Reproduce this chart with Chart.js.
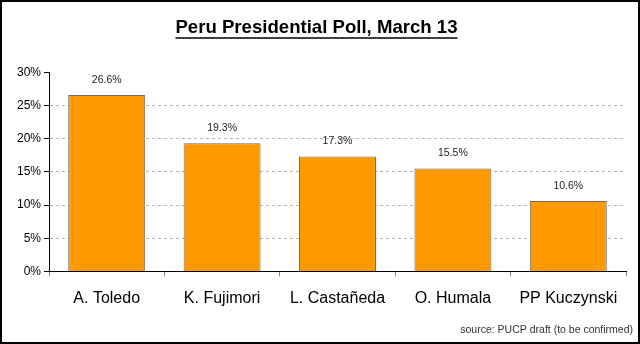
<!DOCTYPE html>
<html><head><meta charset="utf-8">
<script src="https://cdn.jsdelivr.net/npm/chart.js@4"></script>
<style>html,body{margin:0;padding:0;background:#fff}#w{width:640px;height:344px;position:relative}</style>
</head><body><div id="w"><canvas id="c" width="640" height="344"></canvas></div>
<script>
const categories = ["A. Toledo", "K. Fujimori", "L. Castañeda", "O. Humala", "PP Kuczynski"];
const pollValues = [26.6, 19.3, 17.3, 15.5, 10.6];
const yTicks = [0, 5, 10, 15, 20, 25, 30];
const titleText = "Peru Presidential Poll, March 13";
const sourceText = "source: PUCP draft (to be confirmed)";

const FONT = "'Liberation Sans', Arial, sans-serif";
const TITLE_SIZE = 18.6;

const frame = {
  id: 'frame',
  afterDraw(chart) {
    const ctx = chart.ctx;
    ctx.save();
    ctx.strokeStyle = '#000';
    ctx.lineWidth = 2;
    ctx.strokeRect(1, 1, chart.width - 2, chart.height - 2);
    // underline title
    const t = chart.titleBlock;
    if (t) {
      ctx.font = "bold " + TITLE_SIZE + "px " + FONT;
      const w = ctx.measureText(titleText).width;
      const cx = (t.left + t.right) / 2;
      const y = t.top + t.options.padding.top + 21;
      ctx.lineWidth = 1.5;
      ctx.beginPath();
      ctx.moveTo(cx - w / 2, y);
      ctx.lineTo(cx + w / 2, y);
      ctx.stroke();
    }
    // value labels
    const meta = chart.getDatasetMeta(0);
    ctx.font = "10.5px " + FONT;
    ctx.fillStyle = '#222';
    ctx.textAlign = 'center';
    ctx.textBaseline = 'middle';
    meta.data.forEach((bar, i) => {
      ctx.fillText(pollValues[i].toFixed(1) + '%', bar.x, bar.y - 15);
    });
    ctx.restore();
  }
};

new Chart(document.getElementById('c'), {
  type: 'bar',
  data: {
    labels: categories,
    datasets: [{
      data: pollValues,
      backgroundColor: '#FF9900',
      borderColor: '#6b6b6b',
      borderWidth: 1,
      borderSkipped: 'bottom',
      categoryPercentage: 1,
      barPercentage: 0.667
    }]
  },
  options: {
    responsive: false,
    animation: false,
    layout: { padding: { left: 0, right: 7, top: 0, bottom: 8 } },
    plugins: {
      legend: { display: false },
      tooltip: { enabled: false },
      title: {
        display: true, text: titleText, color: '#000',
        font: { family: FONT, size: TITLE_SIZE, weight: 'bold' },
        padding: { top: 17, bottom: 33 }
      },
      subtitle: {
        display: true, text: sourceText, position: 'bottom', align: 'end', color: '#333',
        font: { family: FONT, size: 10.5 },
        padding: { top: 0, bottom: 0 }
      }
    },
    scales: {
      x: {
        grid: { display: true, drawOnChartArea: false, drawTicks: true, tickLength: 5, color: '#888', offset: true },
        border: { display: true, color: '#000', width: 1 },
        ticks: { color: '#000', font: { family: FONT, size: 16 }, padding: 13, maxRotation: 0 },
        afterFit(s) { s.height = 52; }
      },
      y: {
        min: 0, max: 30,
        afterBuildTicks(s) { s.ticks = yTicks.map(v => ({ value: v })); },
        grid: {
          drawTicks: true, tickLength: 5,
          color: ctx => (ctx.tick && (ctx.tick.value === 0 || ctx.tick.value === 30)) ? 'rgba(0,0,0,0)' : '#b4b4b4',
          tickColor: '#000'
        },
        border: { display: true, color: '#000', width: 1, dash: [3, 3] },
        ticks: { color: '#000', font: { family: FONT, size: 12 }, padding: 3, callback: v => v + '%' },
        afterFit(s) { s.width = 49; }
      },
      yRight: {
        position: 'right', min: 0, max: 30,
        grid: { display: false }, border: { display: false },
        ticks: { display: false },
        afterFit(s) { s.width = 7; }
      }
    }
  },
  plugins: [frame]
});
</script>
</body></html>
